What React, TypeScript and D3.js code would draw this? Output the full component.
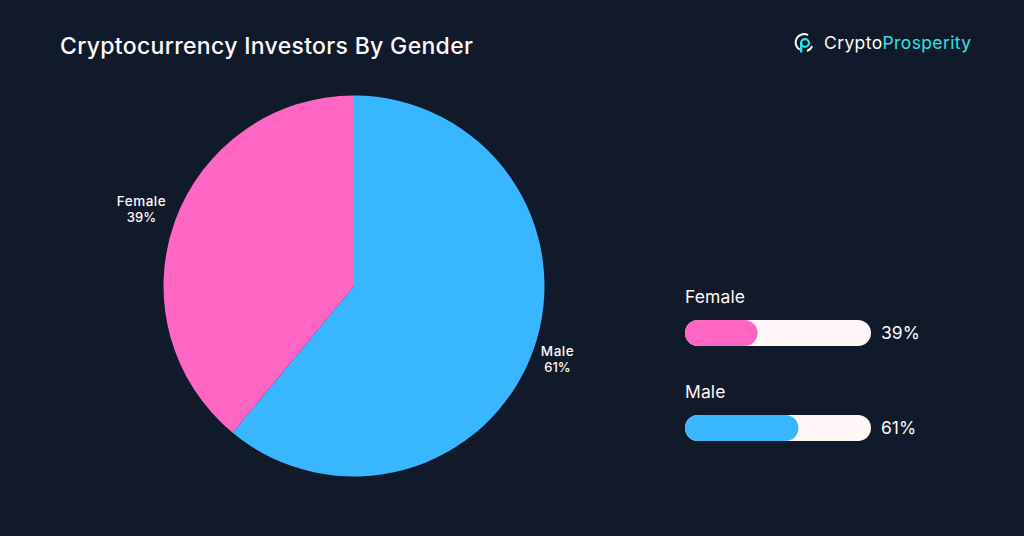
import * as d3 from 'd3'
import React from 'react'

const categories = ['Female', 'Male']
const values = [39, 61]
const barOrder = ['Female', 'Male']
const colors = ['#ff66c4', '#38b6ff']

const width = 1024
const height = 536
const font = 'Inter, sans-serif'
const white = '#fff7f7'
const teal = '#2fe0e6'

const color = d3.scaleOrdinal<string, string>().domain(categories).range(colors)
const cx = 354
const cy = 286
const radius = 190.5

// clockwise from 12 o'clock: male first, female closes the circle
const pie = d3
  .pie<number>()
  .sort(null)
  .value((d) => d)
const slices = pie([values[1], values[0]])
const sliceNames = [categories[1], categories[0]]
const arc = d3.arc<d3.PieArcDatum<number>>().innerRadius(0).outerRadius(radius)

const barX = d3.scaleLinear().domain([0, 100]).range([685, 871])
const barY = d3.scaleOrdinal<string, number>().domain(barOrder).range([320, 415])
const barH = 26

const logoRing = d3.arc()({ innerRadius: 7.4, outerRadius: 9.4, startAngle: -2.6, endAngle: 0.5 } as any) as string
const logoTick = d3.arc()({ innerRadius: 8, outerRadius: 10, startAngle: 2.0, endAngle: 2.8 } as any) as string
const logoBowl = d3.arc()({ innerRadius: 2.8, outerRadius: 5, startAngle: 0, endAngle: 2 * Math.PI } as any) as string

const labelPos: Record<string, [number, number]> = {
  Female: [141.5, 206],
  Male: [557.5, 356],
}

const App: React.FC = () => (
  <svg
    width={width}
    height={height}
    viewBox={`0 0 ${width} ${height}`}
    style={{ position: 'absolute', left: 0, top: 0, display: 'block' }}
    fontFamily={font}
  >
    <rect width={width} height={height} fill="#111a2a" />
    <text x={60} y={54} fill={white} fontSize={23} fontWeight={500} letterSpacing={0.32}>
      Cryptocurrency Investors By Gender
    </text>

    {/* logo */}
    <g transform="translate(804,42.5)">
      <path d={logoRing} fill={white} />
      <path d={logoTick} fill={white} />
      <g transform="translate(1,0.5)">
        <path d={logoBowl} fill={teal} />
        <rect x={-5} y={0} width={2.3} height={9.5} fill={teal} />
      </g>
    </g>
    <text x={824} y={49} fontSize={17.5} letterSpacing={0.38}>
      <tspan fill={white}>Crypto</tspan>
      <tspan fill={teal}>Prosperity</tspan>
    </text>

    <g transform={`translate(${cx},${cy})`}>
      {slices.map((s, i) => (
        <path key={sliceNames[i]} d={arc(s) as string} fill={color(sliceNames[i])} />
      ))}
    </g>

    {categories.map((c, i) => (
      <text key={c} textAnchor="middle" fill={white} fontSize={13.5} fontWeight={500}>
        <tspan x={labelPos[c][0]} y={labelPos[c][1]} letterSpacing={0.5}>
          {c}
        </tspan>
        <tspan x={labelPos[c][0]} y={labelPos[c][1] + 16} fontSize={13}>
          {values[i]}%
        </tspan>
      </text>
    ))}

    {barOrder.map((c) => {
      const v = values[categories.indexOf(c)]
      const y = barY(c)
      return (
        <g key={c}>
          <text x={685} y={y - 17} fill={white} fontSize={17.5} letterSpacing={0.1}>
            {c}
          </text>
          <rect x={barX(0)} y={y} width={barX(100) - barX(0)} height={barH} rx={13} fill={white} />
          <rect x={barX(0)} y={y} width={barX(v) - barX(0)} height={barH} rx={13} fill={color(c)} />
          <text x={881} y={y + 19} fill={white} fontSize={17.5}>
            {v}%
          </text>
        </g>
      )
    })}
  </svg>
)

export default App
